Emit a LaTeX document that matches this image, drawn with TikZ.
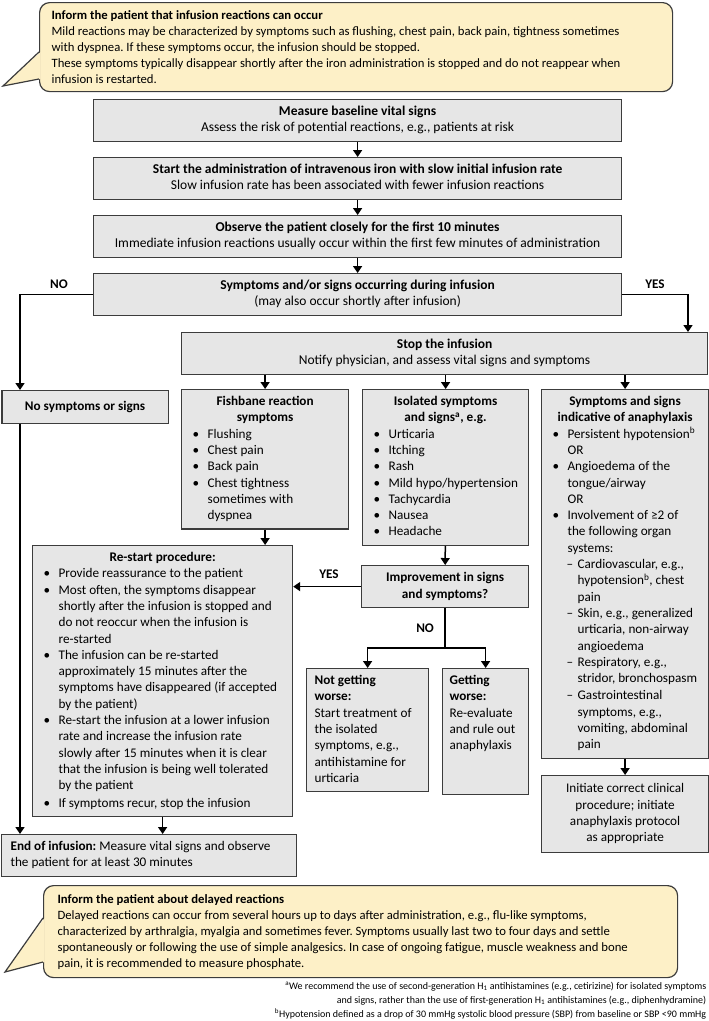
\documentclass[tikz,border=0pt]{standalone}
\usepackage{fontspec}
\setmainfont{Carlito}
\usetikzlibrary{arrows.meta}
\definecolor{boxgray}{HTML}{E6E6E6}
\definecolor{edgegray}{HTML}{3C3C3C}
\definecolor{noteyellow}{HTML}{FDF0C7}
\frenchspacing
% list items inside the boxes
\newcommand{\bul}[2][140pt]{\par\lineskip=0pt\noindent\hspace*{8pt}\makebox[15pt][l]{\textbullet}\parbox[t]{#1}{\raggedright\strut#2\strut}}
\newcommand{\dsh}[2][128pt]{\par\lineskip=0pt\noindent\hspace*{22pt}\makebox[11pt][l]{\textendash}\parbox[t]{#1}{\raggedright\strut#2\strut}}

\begin{document}
\begin{tikzpicture}[x=1pt,y=-1pt,line width=1.5pt,>={Triangle[length=7pt,width=9pt]},
  txt/.style={font=\fontsize{13.2}{16.3}\selectfont},
  box/.style={txt,draw=edgegray,fill=boxgray,line width=1.2pt,inner xsep=3pt,inner ysep=4.5pt,
    anchor=north west,align=flush left,execute at begin node=\strut,execute at end node=\strut},
  mainbox/.style={box,font=\fontsize{13.5}{16.3}\selectfont,align=flush center,text width=522pt,minimum height=40pt},
  note/.style={font=\fontsize{12.7}{16}\selectfont,draw=edgegray,fill=noteyellow,line width=1.2pt,
    rounded corners=10pt,anchor=north west,align=flush left},
  lbl/.style={txt,font=\fontsize{13.2}{16.3}\selectfont\bfseries}]
\useasboundingbox (0,0) rectangle (709,1021);

% first speech bubble
\node[note,inner xsep=12pt,text width=609pt,minimum height=89pt] (note1) at (39,2) {{\bfseries Inform the patient that infusion reactions can occur}\\
Mild reactions may be characterized by symptoms such as flushing, chest pain, back pain, tightness sometimes\\
with dyspnea. If these symptoms occur, the infusion should be stopped.\\
These symptoms typically disappear shortly after the iron administration is stopped and do not reappear when\\
infusion is restarted.};
\coordinate (tip1) at (3,86);
\fill[noteyellow] ([xshift=1.5pt]note1.west |- 0,52) -- (tip1) -- ([xshift=1.5pt]note1.west |- 0,79) -- cycle;
\draw[edgegray,line width=1.2pt] (note1.west |- 0,52) -- (tip1) -- (note1.west |- 0,79);

% main column
\node[mainbox] (b1) at (93,99) {{\bfseries Measure baseline vital signs}\\Assess the risk of potential reactions, e.g., patients at risk};
\node[mainbox] (b2) at (93,157) {{\bfseries Start the administration of intravenous iron with slow initial infusion rate}\\Slow infusion rate has been associated with fewer infusion reactions};
\node[mainbox] (b3) at (93,215) {{\bfseries Observe the patient closely for the first 10 minutes}\\Immediate infusion reactions usually occur within the first few minutes of administration};
\node[mainbox] (b4) at (93,273) {{\bfseries Symptoms and/or signs occurring during infusion}\\(may also occur shortly after infusion)};
\node[mainbox,text width=520pt] (stop) at (181,332) {{\bfseries Stop the infusion}\\Notify physician, and assess vital signs and symptoms};

% branches
\node[box,align=flush center,text width=160pt,minimum height=33pt] (nosym) at (1.5,390) {\bfseries No symptoms or signs};
\node[box,text width=161pt] (fish) at (181,389) {{\centering\bfseries Fishbane reaction\\symptoms\par}
\bul{Flushing}
\bul{Chest pain}
\bul{Back pain}
\bul{Chest tightness\newline sometimes with\newline dyspnea}};
\node[box,text width=160pt] (iso) at (362,389) {{\centering\bfseries Isolated symptoms\\and signs\textsuperscript{a}, e.g.\par}
\bul{Urticaria}
\bul{Itching}
\bul{Rash}
\bul{Mild hypo/hypertension}
\bul{Tachycardia}
\bul{Nausea}
\bul{Headache}};
\node[box,text width=161pt] (anaph) at (541,389) {{\centering\bfseries Symptoms and signs\\indicative of anaphylaxis\par}
\bul{Persistent hypotension\textsuperscript{b}\newline OR}
\bul{Angioedema of the\newline tongue/airway\newline OR}
\bul{Involvement of ≥2 of\newline the following organ\newline systems:}
\dsh{Cardiovascular, e.g.,\newline hypotension\textsuperscript{b}, chest\newline pain}
\dsh{Skin, e.g., generalized\newline urticaria, non-airway\newline angioedema}
\dsh{Respiratory, e.g.,\newline stridor, bronchospasm}
\dsh{Gastrointestinal\newline symptoms, e.g.,\newline vomiting, abdominal\newline pain}};

\node[box,text width=254pt] (restart) at (32,545) {{\centering\bfseries Re-start procedure:\par}
\bul[232pt]{Provide reassurance to the patient}
\bul[232pt]{Most often, the symptoms disappear\newline shortly after the infusion is stopped and\newline do not reoccur when the infusion is\newline re-started}
\bul[232pt]{The infusion can be re-started\newline approximately 15 minutes after the\newline symptoms have disappeared (if accepted\newline by the patient)}
\bul[232pt]{Re-start the infusion at a lower infusion\newline rate and increase the infusion rate\newline slowly after 15 minutes when it is clear\newline that the infusion is being well tolerated\newline by the patient}
\bul[232pt]{If symptoms recur, stop the infusion}};

\node[box,align=flush center,text width=161pt,minimum height=42pt] (improve) at (361,565) {\bfseries Improvement in signs\\\bfseries and symptoms?};
\node[box,inner xsep=8pt,text width=106pt] (ngw) at (306,668) {{\bfseries Not getting\\worse:}\\Start treatment of\\the isolated\\symptoms, e.g.,\\antihistamine for\\urticaria};
\node[box,inner xsep=7pt,text width=72pt,minimum height=104pt] (gw) at (442,668) {{\bfseries Getting\\worse:}\\Re-evaluate\\and rule out\\anaphylaxis\rule[-40pt]{0pt}{0pt}};
\node[box,align=flush center,text width=161pt,minimum height=77pt] (init) at (541,775) {Initiate correct clinical\\procedure; initiate\\anaphylaxis protocol\\as appropriate};
\node[box,inner xsep=9pt,text width=277pt] (endinf) at (1,834) {{\bfseries End of infusion:} Measure vital signs and observe\\the patient for at least 30 minutes};

% arrows of the main column
\draw[->] (b1) -- (b2);
\draw[->] (b2) -- (b3);
\draw[->] (b3) -- (b4);
\coordinate (nocol) at (20,0);
\coordinate (yescol) at (688,0);
\draw[->] (b4.west) -| (nosym.north -| nocol);
\draw[->] (b4.east) -| (stop.north -| yescol);
\node[lbl] (lno) at (59,284) {NO};
\node[lbl] (lyes) at (655,284) {YES};
\draw[->] (nosym.south -| nocol) -- (endinf.north -| nocol);

% after stopping the infusion
\draw[->] (stop.south -| fish.north) -- (fish.north);
\draw[->] (stop.south -| iso.north) -- (iso.north);
\draw[->] (stop.south -| anaph.north) -- (anaph.north);
\draw[->] (fish.south) -- (fish.south |- restart.north);
\draw[->] (iso) -- (improve);
\draw[->] (improve.west) -- (improve.west -| restart.east);
\node[lbl] (lyes2) at (329,574) {YES};
\draw[->] (improve.south) -- ++(0,40) -| (ngw.north);
\draw[->] (improve.south) -- ++(0,40) -| (gw.north);
\node[lbl,anchor=east] (lno2) at (438,628) {NO};
\draw[->] (anaph) -- (init);
\draw[->] (restart.south) -- (restart.south |- endinf.north);

% second speech bubble
\node[note,inner xsep=14pt,text width=606pt,minimum height=92pt] (note2) at (43,885) {{\bfseries Inform the patient about delayed reactions}\\
Delayed reactions can occur from several hours up to days after administration, e.g., flu-like symptoms,\\
characterized by arthralgia, myalgia and sometimes fever. Symptoms usually last two to four days and settle\\
spontaneously or following the use of simple analgesics. In case of ongoing fatigue, muscle weakness and bone\\
pain, it is recommended to measure phosphate.};
\coordinate (tip2) at (5,972);
\fill[noteyellow] ([xshift=1.5pt]note2.west |- 0,918) -- (tip2) -- ([xshift=1.5pt]note2.west |- 0,962) -- cycle;
\draw[edgegray,line width=1.2pt] (note2.west |- 0,918) -- (tip2) -- (note2.west |- 0,962);

% footnotes
\node[anchor=north east,align=right,inner sep=0pt,font=\fontsize{10}{14}\selectfont] (fn) at (707,981)
 {\textsuperscript{a}We recommend the use of second-generation H\textsubscript{1} antihistamines (e.g., cetirizine) for isolated symptoms\\
 and signs, rather than the use of first-generation H\textsubscript{1} antihistamines (e.g., diphenhydramine)\\
 \textsuperscript{b}Hypotension defined as a drop of 30 mmHg systolic blood pressure (SBP) from baseline or SBP <90 mmHg};
\end{tikzpicture}
\end{document}
